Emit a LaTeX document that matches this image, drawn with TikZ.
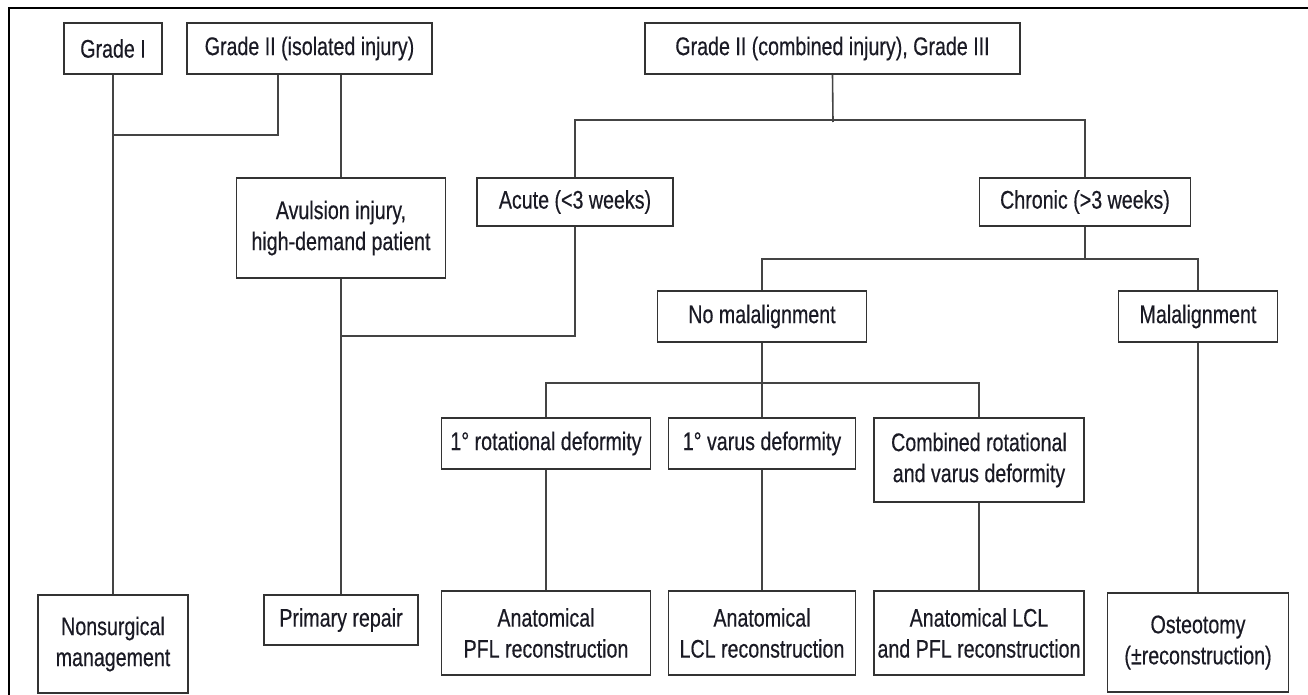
\documentclass[tikz,border=0pt]{standalone}
\usepackage{fontspec}
\setmainfont{Liberation Sans}[FakeStretch=0.77, FakeBold=0.4]
\usetikzlibrary{calc}
\definecolor{boxline}{HTML}{333333}
\definecolor{linkgray}{HTML}{444444}
\definecolor{inktext}{HTML}{1A1A24}
\tikzset{
  card/.style={draw=boxline, line width=1.8pt, fill=white, inner sep=0pt, align=center,
    text=inktext, font=\fontsize{25.5}{31}\selectfont},
  link/.style={draw=linkgray, line width=1.6pt}
}

\begin{document}
\begin{tikzpicture}[x=1pt, y=-1pt]
  \useasboundingbox (0,0) rectangle (1308,695);
  % Rahmen
  \draw[line width=2.4pt, black] (9,695) -- (9,8) -- (1308,8);

  % Grades
  \node[card, minimum width=98, minimum height=51] (gradeI) at (113,48.5) {Grade I};
  \node[card, minimum width=245, minimum height=51] (gradeIIiso) at (309.5,48.5) {Grade II (isolated injury)};
  \node[card, minimum width=375, minimum height=51] (gradeIIIcomb) at (832.5,48.5) {Grade II (combined injury), Grade III};

  % Zweite Ebene
  \node[card, minimum width=209, minimum height=100] (avulsion) at (341,228) {Avulsion injury,\\high-demand patient};
  \node[card, minimum width=196, minimum height=48] (acute) at (575,202) {Acute (<3 weeks)};
  \node[card, minimum width=211, minimum height=48] (chronic) at (1085,202) {Chronic (>3 weeks)};

  % Alignment
  \node[card, minimum width=209, minimum height=51] (nomal) at (762,316.5) {No malalignment};
  \node[card, minimum width=159, minimum height=51] (malal) at (1198,316.5) {Malalignment};

  % Deformitaet
  \node[card, minimum width=209, minimum height=51] (rotdef) at (546,443.5) {1° rotational deformity};
  \node[card, minimum width=187, minimum height=51] (vardef) at (762,443.5) {1° varus deformity};
  \node[card, minimum width=210, minimum height=84] (combdef) at (979,460) {Combined rotational\\and varus deformity};

  % Therapie
  \node[card, minimum width=150, minimum height=98] (nonsurg) at (113,644) {Nonsurgical\\management};
  \node[card, minimum width=154, minimum height=50] (primrep) at (341,620) {Primary repair};
  \node[card, minimum width=209, minimum height=84] (pflrec) at (546,633) {Anatomical\\PFL reconstruction};
  \node[card, minimum width=187, minimum height=84] (lclrec) at (762,633) {Anatomical\\LCL reconstruction};
  \node[card, minimum width=210, minimum height=84] (bothrec) at (979,633) {Anatomical LCL\\and PFL reconstruction};
  \node[card, minimum width=181, minimum height=99] (osteo) at (1198,642.5) {Osteotomy\\(±reconstruction)};

  % Verzweigungspunkte
  \coordinate (isoJoin) at (278,135);
  \coordinate (repJoin) at (341,336);
  \coordinate (combSplit) at (833,120);
  \coordinate (chronSplit) at (1085,259);
  \coordinate (nomalSplit) at (762,383);

  % Grade I / II isoliert
  \draw[link] (gradeI.south) -- (nonsurg.north);
  \draw[link] (isoJoin |- gradeIIiso.south) -- (isoJoin) -- (gradeI.south |- isoJoin);
  \draw[link] (avulsion.north |- gradeIIiso.south) -- (avulsion.north);
  \draw[link] (avulsion.south) -- (primrep.north);
  \draw[link] (repJoin) -- (acute.south |- repJoin) -- (acute.south);

  % Grade II kombiniert / III
  \draw[link] (gradeIIIcomb.south) -- ($(combSplit)+(0,2)$);
  \draw[link] (acute.north) -- (acute.north |- combSplit) -- (chronic.north |- combSplit) -- (chronic.north);

  % Chronisch
  \draw[link] (chronic.south) -- (chronSplit);
  \draw[link] (nomal.north) -- (nomal.north |- chronSplit) -- (malal.north |- chronSplit) -- (malal.north);
  \draw[link] (malal.south) -- (osteo.north);

  % Keine Achsabweichung
  \draw[link] (nomal.south) -- (nomalSplit);
  \draw[link] (rotdef.north) -- (rotdef.north |- nomalSplit) -- (combdef.north |- nomalSplit) -- (combdef.north);
  \draw[link] (vardef.north |- nomalSplit) -- (vardef.north);
  \draw[link] (rotdef.south) -- (pflrec.north);
  \draw[link] (vardef.south) -- (lclrec.north);
  \draw[link] (combdef.south) -- (bothrec.north);
\end{tikzpicture}
\end{document}
